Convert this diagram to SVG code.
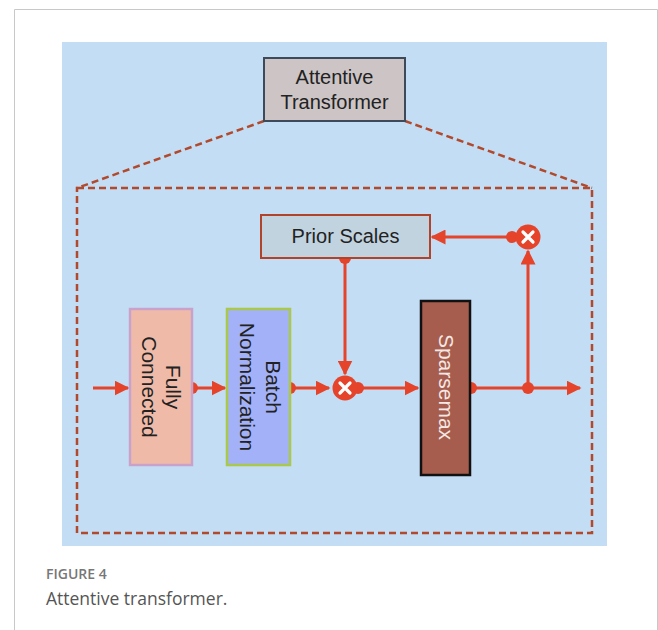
<svg xmlns="http://www.w3.org/2000/svg" width="658" height="630" viewBox="0 0 658 630">
<defs>
<marker id="ah" viewBox="0 0 10 10" refX="9" refY="5" markerWidth="5" markerHeight="5" orient="auto" markerUnits="strokeWidth">
<path d="M0,0 L10,5 L0,10 z" fill="#E5432A"/>
</marker>
<style>
.lbl{font-family:"Liberation Sans",Arial,sans-serif;font-size:20px;fill:#222;text-anchor:middle}
.rot{font-size:21px}
.wire{stroke:#E5432A;stroke-width:3;fill:none}
.dash{stroke:#B14A2C;stroke-width:2.5;fill:none;stroke-dasharray:7,4}
.dot{fill:#E5432A}
</style>
</defs>
<rect x="0" y="0" width="658" height="630" fill="#fff"/>
<path d="M14.5,630 V9.5 H657.5 V630" fill="none" stroke="#c8c8c8" stroke-width="1"/>
<rect x="62" y="42" width="545" height="504" fill="#C3DDF5"/>

<g id="connectors">
<path class="dash" d="M264,121 L77,188 M405,121 L592,188"/>
<rect class="dash" x="77" y="188" width="515" height="345"/>
<line class="wire" x1="93" y1="388" x2="128" y2="388" marker-end="url(#ah)"/>
<line class="wire" x1="192" y1="388" x2="225" y2="388" marker-end="url(#ah)"/>
<line class="wire" x1="290" y1="388" x2="329" y2="388" marker-end="url(#ah)"/>
<line class="wire" x1="345" y1="258" x2="345" y2="374" marker-end="url(#ah)"/>
<line class="wire" x1="358" y1="388" x2="418" y2="388" marker-end="url(#ah)"/>
<line class="wire" x1="471" y1="388" x2="580" y2="388" marker-end="url(#ah)"/>
<line class="wire" x1="528" y1="388" x2="528" y2="251" marker-end="url(#ah)"/>
<line class="wire" x1="513" y1="237" x2="432" y2="237" marker-end="url(#ah)"/>
<circle class="dot" cx="192" cy="388" r="6"/>
<circle class="dot" cx="290" cy="388" r="6"/>
<circle class="dot" cx="345" cy="258" r="6"/>
<circle class="dot" cx="358" cy="388" r="6"/>
<circle class="dot" cx="471" cy="388" r="6"/>
<circle class="dot" cx="528" cy="388" r="6"/>
<circle class="dot" cx="512" cy="237" r="6"/>
</g>

<g id="attentive-transformer">
<rect x="264" y="58" width="141" height="63" fill="#CDC5C5" stroke="#3E4A5A" stroke-width="2"/>
<text class="lbl" x="334.5" y="84">Attentive</text>
<text class="lbl" x="334.5" y="109">Transformer</text>
</g>

<g id="prior-scales">
<rect x="261" y="215" width="169" height="43" fill="#C2D3E0" stroke="#B0432A" stroke-width="2"/>
<text class="lbl" x="345.5" y="243">Prior Scales</text>
</g>

<g id="fully-connected">
<rect x="130" y="309" width="62" height="156" fill="#EFBBA8" stroke="#C9A2CC" stroke-width="2.5"/>
<g transform="translate(161,387) rotate(90)">
<text class="lbl rot" x="0" y="-5">Fully</text>
<text class="lbl rot" x="0" y="19">Connected</text>
</g>
</g>

<g id="batch-normalization">
<rect x="227" y="309" width="63" height="156" fill="#A3B2F8" stroke="#A9C84C" stroke-width="2.5"/>
<g transform="translate(258.5,387) rotate(90)">
<text class="lbl rot" x="0" y="-7">Batch</text>
<text class="lbl rot" x="0" y="19">Normalization</text>
</g>
</g>

<g id="multiply-1">
<circle cx="345" cy="388" r="12.5" fill="#E5432A"/>
<path d="M340,383 L350,393 M350,383 L340,393" stroke="#fff" stroke-width="3.2" stroke-linecap="round"/>
</g>

<g id="multiply-2">
<circle cx="528" cy="237" r="12.5" fill="#E5432A"/>
<path d="M523,232 L533,242 M533,232 L523,242" stroke="#fff" stroke-width="3.2" stroke-linecap="round"/>
</g>

<g id="sparsemax">
<rect x="421" y="301" width="49" height="174" fill="#A65D4E" stroke="#111" stroke-width="2.5"/>
<g transform="translate(445.5,387) rotate(90)">
<text class="lbl rot" x="0" y="7" style="fill:#f4e8e4">Sparsemax</text>
</g>
</g>

<g id="caption">
<text x="46" y="579" font-family="'Open Sans','Noto Sans',sans-serif" font-size="14" font-weight="600" fill="#777">FIGURE 4</text>
<text x="46" y="605" font-family="'Open Sans','Noto Sans',sans-serif" font-size="17.5" fill="#555">Attentive transformer.</text>
</g>
</svg>
